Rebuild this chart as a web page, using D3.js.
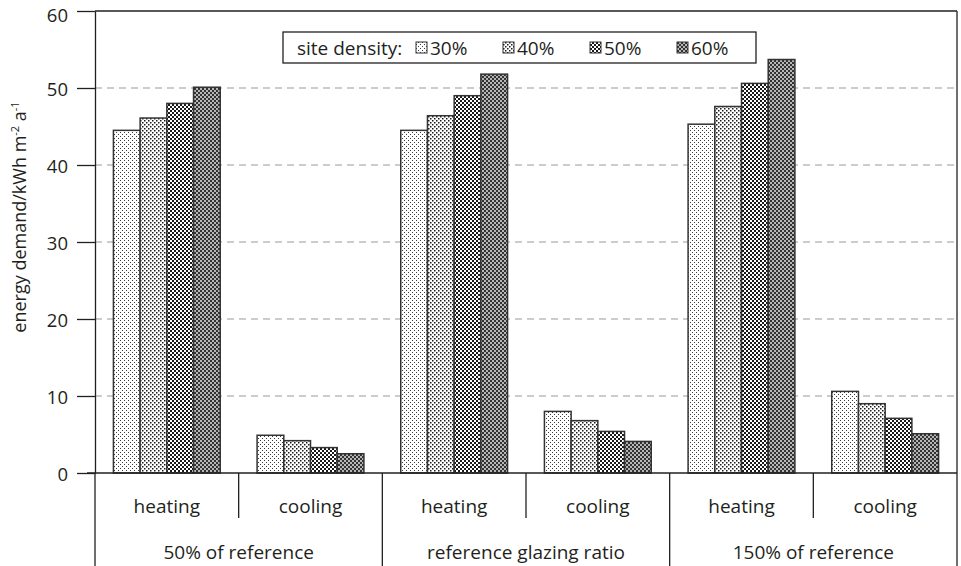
<!DOCTYPE html>
<html>
<head>
<meta charset="utf-8">
<script src="https://cdn.jsdelivr.net/npm/d3@7"></script>
<style>
  html, body { margin: 0; padding: 0; background: #fff; }
  svg { display: block; font-family: "Open Sans", "Noto Sans", sans-serif; }
</style>
</head>
<body>
<svg id="chart" width="961" height="566"></svg>
<script>
// Glazing-ratio scenarios and end uses
const groups = ["50% of reference", "reference glazing ratio", "150% of reference"];
const uses = ["heating", "cooling"];
const densities = ["30%", "40%", "50%", "60%"];

// Energy demand (kWh m-2 a-1), order: heating/cooling per scenario
const density30 = [44.5, 4.9, 44.5, 8.0, 45.3, 10.6];
const density40 = [46.1, 4.2, 46.4, 6.8, 47.6, 9.0];
const density50 = [48.0, 3.3, 49.0, 5.4, 50.6, 7.1];
const density60 = [50.1, 2.5, 51.8, 4.1, 53.7, 5.1];

const yTicks = [0, 10, 20, 30, 40, 50, 60];

(function () {
const series = [density30, density40, density50, density60];
const cells = [];
groups.forEach((g, gi) => uses.forEach((u, ui) => cells.push({ group: g, use: u, idx: gi * 2 + ui })));

const svg = d3.select("#chart");
const plotLeft = 95, plotRight = 957, plotTop = 11, plotBottom = 473;
const ink = "#231f20";
const fontSize = 19;

const x0 = d3.scaleBand().domain(cells.map(c => c.idx)).range([plotLeft, plotRight]).padding(0);
const x1 = d3.scaleBand().domain(densities).range([0, x0.bandwidth()]).paddingInner(0).paddingOuter(0.69);
const y = d3.scaleLinear().domain([0, 60]).range([plotBottom, plotTop]);

// Fill patterns, from sparse dots to a dense dark check
const defs = svg.append("defs");
function pattern(id, bg, fg, size, dots) {
  const p = defs.append("pattern").attr("id", id).attr("patternUnits", "userSpaceOnUse")
    .attr("width", size).attr("height", size);
  p.append("rect").attr("width", size).attr("height", size).attr("fill", bg);
  dots.forEach(d => p.append("rect").attr("x", d[0]).attr("y", d[1]).attr("width", d[2]).attr("height", d[2]).attr("fill", fg));
}
pattern("p30", "#ffffff", "#3a3a3a", 4, [[0, 0, 1], [2, 2, 1]]);
pattern("p40", "#ffffff", "#1a1a1a", 4, [[0, 0, 1.5], [2, 2, 1.5]]);
pattern("p50", "#ffffff", "#1a1a1a", 4, [[0, 0, 2], [2, 2, 2]]);
pattern("p60", "#333333", "#ffffff", 4, [[0.2, 0.2, 1.6], [2.2, 2.2, 1.6]]);
const fills = d3.scaleOrdinal().domain(densities).range(["url(#p30)", "url(#p40)", "url(#p50)", "url(#p60)"]);

// Dashed gridlines
svg.append("g").selectAll("line")
  .data(yTicks.filter(t => t > 0 && t < 60))
  .join("line")
  .attr("x1", plotLeft).attr("x2", plotRight)
  .attr("y1", d => y(d)).attr("y2", d => y(d))
  .attr("stroke", "#9a9a9a").attr("stroke-width", 1.1)
  .attr("stroke-dasharray", "7,5");

// Bars
const barG = svg.append("g");
densities.forEach((dname, si) => {
  barG.selectAll(null)
    .data(cells)
    .join("rect")
    .attr("x", c => x0(c.idx) + x1(dname))
    .attr("y", c => y(series[si][c.idx]))
    .attr("width", x1.bandwidth())
    .attr("height", c => y(0) - y(series[si][c.idx]))
    .attr("fill", fills(dname))
    .attr("stroke", "#333")
    .attr("stroke-width", 1.5);
});

// Frame: top and right edges
svg.append("line").attr("x1", plotLeft).attr("x2", plotRight).attr("y1", plotTop).attr("y2", plotTop)
  .attr("stroke", ink).attr("stroke-width", 1.3);
svg.append("line").attr("x1", plotRight).attr("x2", plotRight).attr("y1", plotTop).attr("y2", plotBottom)
  .attr("stroke", ink).attr("stroke-width", 1.3);

// Y axis
const yAxis = svg.append("g").attr("transform", `translate(${plotLeft},0)`)
  .call(d3.axisLeft(y).tickValues(yTicks).tickSize(18).tickPadding(9).tickSizeOuter(0));
yAxis.select(".domain").attr("stroke", ink).attr("stroke-width", 1.3);
yAxis.selectAll(".tick line").attr("stroke", ink).attr("stroke-width", 1.3);
yAxis.selectAll(".tick text").attr("font-size", 18.5).attr("fill", ink)
  .attr("font-family", "'Open Sans', sans-serif")
  .attr("dy", d => d === 60 ? "0.58em" : "0.4em");

// Baseline
svg.append("line").attr("x1", plotLeft - 8).attr("x2", plotRight).attr("y1", plotBottom).attr("y2", plotBottom)
  .attr("stroke", ink).attr("stroke-width", 1.5);

// Category separators below the axis
const bounds = d3.range(cells.length + 1).map(i => plotLeft + i * x0.step());
svg.append("g").selectAll("line")
  .data(bounds)
  .join("line")
  .attr("x1", d => d).attr("x2", d => d)
  .attr("y1", plotBottom).attr("y2", (d, i) => i % 2 === 0 ? 566 : 518)
  .attr("stroke", ink).attr("stroke-width", 1.3);

// End-use labels
svg.append("g").selectAll("text")
  .data(cells)
  .join("text")
  .attr("x", c => x0(c.idx) + x0.bandwidth() / 2)
  .attr("y", 513)
  .attr("text-anchor", "middle")
  .attr("font-size", fontSize)
  .attr("fill", ink)
  .text(c => c.use);

// Scenario labels
svg.append("g").selectAll("text")
  .data(groups)
  .join("text")
  .attr("x", (g, gi) => plotLeft + (gi * 2 + 1) * x0.step())
  .attr("y", 559)
  .attr("text-anchor", "middle")
  .attr("font-size", fontSize)
  .attr("fill", ink)
  .text(g => g);

// Y axis title
const yt = svg.append("text")
  .attr("transform", "translate(26,217) rotate(-90)")
  .attr("text-anchor", "middle")
  .attr("font-size", 18)
  .attr("fill", ink);
yt.append("tspan").text("energy demand/kWh m");
yt.append("tspan").attr("dy", -7).attr("font-size", 11).text("-2");
yt.append("tspan").attr("dy", 7).text(" a");
yt.append("tspan").attr("dy", -7).attr("font-size", 11).text("-1");

// Legend
const lg = svg.append("g");
lg.append("rect").attr("x", 283).attr("y", 32).attr("width", 473).attr("height", 31)
  .attr("fill", "#fff").attr("stroke", ink).attr("stroke-width", 1.3);
lg.append("text").attr("x", 297).attr("y", 55).attr("font-size", fontSize).attr("fill", ink).text("site density:");
const items = lg.selectAll("g.item").data(densities).join("g")
  .attr("class", "item")
  .attr("transform", (d, i) => `translate(${416 + i * 87},0)`);
items.append("rect").attr("x", 0).attr("y", 42).attr("width", 11).attr("height", 11)
  .attr("fill", d => fills(d)).attr("stroke", "#333").attr("stroke-width", 1);
items.append("text").attr("x", 14).attr("y", 55).attr("font-size", fontSize).attr("fill", ink).text(d => d);
})();
</script>
</body>
</html>
